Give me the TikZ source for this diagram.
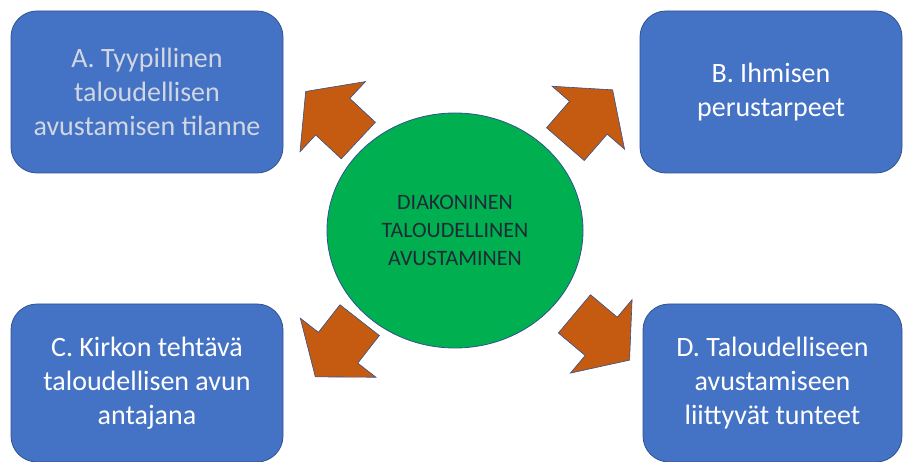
\documentclass[tikz,border=0pt]{standalone}
\usepackage{fontspec}
\setmainfont{Carlito}
\usetikzlibrary{shapes.geometric}

\definecolor{boxblue}{HTML}{4472C4}
\definecolor{boxline}{HTML}{2F528F}
\definecolor{hubgreen}{HTML}{00B050}
\definecolor{arroworange}{HTML}{C55A11}
\definecolor{hubtext}{HTML}{1F2A36}
\definecolor{paletext}{HTML}{D0D6E2}

\begin{document}
\begin{tikzpicture}[
        x=1pt, y=-1pt,
        topic/.style={rectangle, rounded corners=26pt, draw=boxline, fill=boxblue, line width=0.8pt, minimum width=272pt, minimum height=162pt, inner sep=0pt, align=center, text=white, font=\fontsize{28}{34}\selectfont},
        hub/.style={ellipse, draw=boxline, fill=hubgreen, line width=0.8pt, minimum width=256pt, minimum height=235pt, inner sep=0pt, align=center, text=hubtext, font=\fontsize{22}{28}\selectfont},
        pics/bigarrow/.style={code={
            \draw[fill=arroworange, draw=boxline, line width=0.6pt, line join=miter] (-36,25) -- (-1,25) -- (-1,48) -- (36,0) -- (-1,-48) -- (-1,-25) -- (-36,-25) -- cycle;
        }}
    ]
    \useasboundingbox (0,0) rectangle (903,462);

    % Centre
    \node[hub] (hub) at (455,230.5) {DIAKONINEN\\TALOUDELLINEN\\AVUSTAMINEN};

    % Topics
    \node[topic, text=paletext] (situation) at (147,92) {A. Tyypillinen\\taloudellisen\\avustamisen tilanne};
    \node[topic, minimum width=262pt] (needs) at (771,92) {B. Ihmisen\\perustarpeet};
    \node[topic, minimum height=158pt] (church) at (147,383) {C. Kirkon tehtävä\\taloudellisen avun\\antajana};
    \node[topic, minimum width=259pt, minimum height=158pt] (feelings) at (772.5,383) {D. Taloudelliseen\\avustamiseen\\liittyvät tunteet};

    % Arrows
    \pic[rotate=137] at (332,116) {bigarrow};
    \pic[rotate=49] at (589,117) {bigarrow};
    \pic[rotate=232] at (337.5,348.5) {bigarrow};
    \pic[rotate=320] at (602,337) {bigarrow};

\end{tikzpicture}
\end{document}
